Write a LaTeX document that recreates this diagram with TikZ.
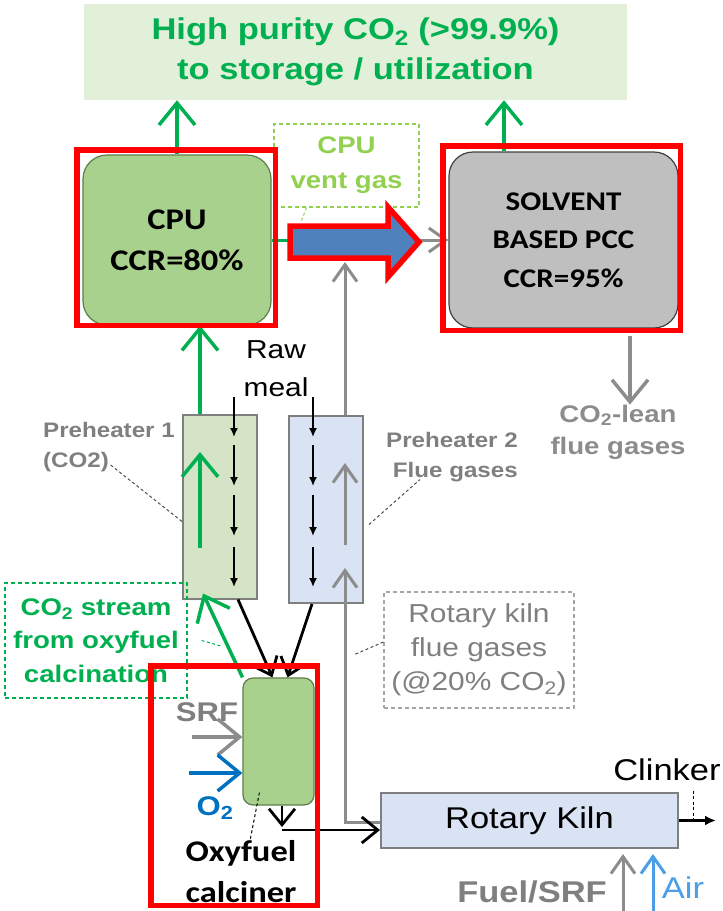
\documentclass[tikz,border=0pt]{standalone}
\usepackage{fontspec}
\setmainfont{Liberation Sans}[FakeStretch=1.15]
\newfontfamily\calfont{Carlito}[FakeStretch=1.15]
\usepackage{xcolor}
\usepackage{tikz}
\usetikzlibrary{arrows.meta,positioning,calc}
\definecolor{ccsgreen}{HTML}{00B050}
\definecolor{ventgreen}{HTML}{92D050}
\definecolor{cpufill}{HTML}{A9D18E}
\definecolor{cpuline}{HTML}{5E7D4C}
\definecolor{bannerfill}{HTML}{E2F0D9}
\definecolor{phgreen}{HTML}{D5E4C6}
\definecolor{phblue}{HTML}{DAE3F3}
\definecolor{pccfill}{HTML}{BFBFBF}
\definecolor{boxgray}{HTML}{7F7F7F}
\definecolor{flowgray}{HTML}{8C8C8C}
\definecolor{otwo}{HTML}{0070C0}
\definecolor{airblue}{HTML}{4A9FE8}
\definecolor{hiblue}{HTML}{4F81BD}
\newcommand{\fsz}[2]{\fontsize{#1}{#2}\selectfont}

\begin{document}
\begin{tikzpicture}[x=1pt, y=-1pt,
    plantbox/.style={rectangle, rounded corners=24pt, draw=cpuline, line width=1.2pt, fill=cpufill,
        inner sep=0pt, align=center, font=\calfont\bfseries\fsz{30}{41}},
    tower/.style={rectangle, draw=boxgray, line width=2pt, inner sep=0pt},
    notebox/.style={rectangle, dash pattern=on 4pt off 3pt, line width=1.2pt, inner sep=0pt, align=center},
    txt/.style={inner sep=0pt, align=center},
    redframe/.style={rectangle, draw=red, line width=5.5pt, inner sep=0pt},
    flow/.style={-{Straight Barb[length=22pt,width=36pt]}, line width=3.5pt},
    feed/.style={-{Straight Barb[length=16pt,width=26pt]}, line width=2.8pt},
    thin flow/.style={-{Straight Barb[length=17pt,width=24pt]}, line width=3pt},
    meal/.style={-{Latex[length=9pt,width=8pt]}, line width=1.6pt},
    leader/.style={dash pattern=on 3pt off 2.5pt, line width=1pt, draw=black!70}
]
\useasboundingbox (0,0) rectangle (723,911);

\node[rectangle, fill=bannerfill, minimum width=543, minimum height=96, align=center,
    text=ccsgreen, font=\bfseries\fsz{30}{40}] (banner) at (355.5,52) {High purity CO\textsubscript{2} (>99.9\%)\\to storage / utilization};

\node[plantbox, minimum width=188, minimum height=170] (cpu) at (177,240) {CPU\\CCR=80\%};
\node[plantbox, fill=pccfill, draw=black!75, font=\calfont\bfseries\fsz{27}{38.5},
    minimum width=229, minimum height=176] (pcc) at (563.5,240) {SOLVENT\\BASED PCC\\CCR=95\%};
\node[notebox, draw=ventgreen, text=ventgreen, font=\bfseries\fsz{24}{35},
    minimum width=145, minimum height=83] (vent) at (346.5,165.5) {CPU\\vent gas};

\node[tower, fill=phgreen, minimum width=74, minimum height=184] (ph1) at (220,506.5) {};
\node[tower, fill=phblue, minimum width=74, minimum height=187] (ph2) at (326,509.5) {};
\node[plantbox, rounded corners=10pt, minimum width=71, minimum height=127] (calc) at (278.5,741.5) {};
\node[tower, fill=phblue, font=\fsz{30}{36}, minimum width=297, minimum height=55] (kiln) at (529.5,820.5) {Rotary Kiln};

\node[txt, font=\fsz{26}{38}] (raw) at (276,369) {Raw\\meal};
\node[txt, anchor=west, align=left, text=boxgray, font=\bfseries\fsz{21}{30}] (ph1lbl) at (43,447) {Preheater 1\\(CO2)};
\node[txt, anchor=east, align=right, text=boxgray, font=\bfseries\fsz{21}{30}] (ph2lbl) at (518,457) {Preheater 2\\Flue gases};
\node[txt, text=flowgray, font=\bfseries\fsz{24}{32}] (lean) at (618,432) {CO\textsubscript{2}-lean\\flue gases};
\node[notebox, draw=ccsgreen, text=ccsgreen, font=\bfseries\fsz{24}{33.5},
    minimum width=182, minimum height=115] (stream) at (96,640.5) {CO\textsubscript{2} stream\\from oxyfuel\\calcination};
\node[notebox, draw=boxgray!70, text=boxgray, font=\fsz{26}{34},
    minimum width=190, minimum height=116] (kilngas) at (479,650) {Rotary kiln\\flue gases\\(@20\% CO\textsubscript{2})};
\node[txt, text=boxgray, font=\bfseries\fsz{27}{30}] (srf) at (207,712) {SRF};
\node[txt, text=otwo, font=\bfseries\fsz{27}{30}] (otwolbl) at (215,808) {O\textsubscript{2}};
\node[txt, font=\calfont\bfseries\fsz{30}{41}] (oxy) at (241,872) {Oxyfuel\\calciner};
\node[txt, font=\fsz{30}{36}] (clinker) at (667,770) {Clinker};
\node[txt, text=boxgray, font=\bfseries\fsz{30}{36}] (fuel) at (532,892) {Fuel/SRF};
\node[txt, text=airblue, font=\fsz{30}{36}] (air) at (683,888) {Air};

\coordinate (ventsplit) at (300,240);
\coordinate (fluetop) at (345,262);
\coordinate (kilnbend) at (345,822);
\coordinate (flueup) at (345,568);
\coordinate (srfin) at (192,737);
\coordinate (otwoin) at (189,773);
\coordinate (calcout) at (282,830);
\coordinate (clinkout) at (716,820.5);
\coordinate (fuelin) at (623,911);
\coordinate (airin) at (653,911);

\draw[flow, ccsgreen] (cpu.north) -- (cpu.north |- banner.south);
\draw[flow, ccsgreen] ($(pcc.north)+(-59.5,0)$) -- ($(pcc.north |- banner.south)+(-59.5,0)$);
\draw[ccsgreen, line width=3pt] (cpu.east) -- (ventsplit);
\draw[thin flow, flowgray] (ventsplit) -- (pcc.west);
\draw[leader, ventgreen] ($(vent.south)+(-40,0)$) -- ++(-5,13);
\draw[thin flow, flowgray] (ph2.north -| fluetop) -- (fluetop);
\draw[flow, flowgray] ($(pcc.south)+(66.5,7)$) -- ($(pcc.south |- lean.north)+(66.5,0)$);

\draw[flow, ccsgreen] ($(ph1.north)+(-20,0)$) -- ($(ph1.north |- cpu.south)+(-20,0)$);
\foreach \x in {234,313} {
    \foreach \ya/\yb in {397/437,445/486,495/536,547/587} {
        \draw[meal] (\x,\ya) -- (\x,\yb);
    }
}
\draw[flow, ccsgreen] (200,548) -- (200,452);
\draw[thin flow, flowgray] (345,545) -- (345,463);
\draw[thin flow, flowgray] (kiln.west |- kilnbend) -- (kilnbend) -- (flueup);
\draw[leader] ($(ph1.west)+(0,15)$) -- ++(-72,-57);
\draw[leader] ($(ph2.east)+(5,15)$) -- ++(51,-45);

\draw[feed] ($(ph1.south)+(18,0)$) -- ($(calc.north)+(-6,0)$);
\draw[feed] ($(ph2.south)+(-14,0)$) -- ($(calc.north)+(9,0)$);
\draw[flow, ccsgreen] ($(calc.north)+(-36,0)$) -- ($(ph1.south)+(-17,-6)$);
\draw[leader, ccsgreen] ($(stream.east)+(14,0)$) -- ++(21,6);
\draw[leader] ($(kilngas.west)+(0,-8)$) -- ++(-30,13);

\draw[flow, flowgray] (srfin) -- (srfin -| calc.west);
\draw[flow, otwo] (otwoin) -- (otwoin -| calc.west);
\draw[feed] (calc.south -| calcout) -- ($(calcout)+(0,-3)$);
\draw[feed] (calcout) -- (calcout -| kiln.west);
\draw[leader, black] ($(calc.south west)+(17,-13)$) -- ($(oxy.north)+(9,0)$);
\draw[-{Latex[length=11pt,width=10pt]}, line width=2.2pt] (kiln.east) -- (clinkout);
\draw[leader, black] ($(kiln.east)+(14,-30)$) -- ++(0,30);
\draw[thin flow, flowgray] (fuelin) -- ($(fuelin |- kiln.south)+(0,5)$);
\draw[thin flow, airblue] (airin) -- ($(airin |- kiln.south)+(0,5)$);

\draw[red, line width=5.5pt, fill=hiblue, line join=miter] (290,226) -- (388,226) -- (388,207) -- (419,242) -- (388,277) -- (388,258) -- (290,258) -- cycle;

\node[redframe, minimum width=198.5, minimum height=175.5] (cpuframe) at (176,237.5) {};
\node[redframe, minimum width=237.5, minimum height=184.5] (pccframe) at (561.5,238) {};
\node[redframe, minimum width=166.5, minimum height=239.5] (calcframe) at (234,785.5) {};

\end{tikzpicture}
\end{document}
